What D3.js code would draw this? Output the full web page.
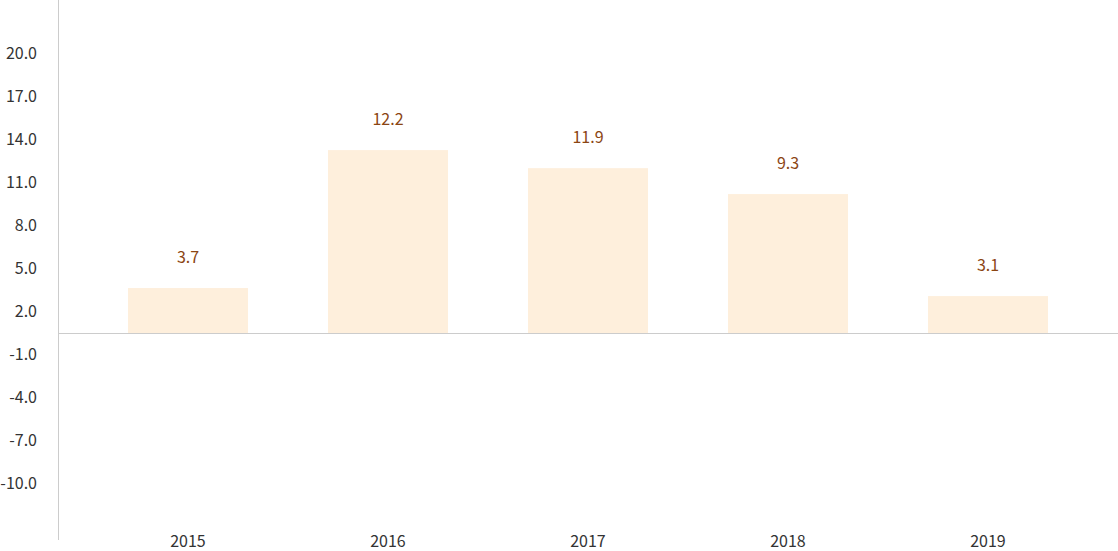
<!DOCTYPE html>
<html>
<head>
<meta charset="utf-8">
<script src="https://cdn.jsdelivr.net/npm/d3@7"></script>
<style>
  html, body { margin: 0; padding: 0; background: #fff; }
  svg { display: block; font-family: "Noto Sans CJK SC", "Noto Sans", sans-serif; }
</style>
</head>
<body>
<svg id="chart" width="1118" height="551"></svg>
<script>
const categories = ["2015", "2016", "2017", "2018", "2019"];
const barValues = [3.14, 12.77, 11.51, 9.70, 2.58];
const labelValues = ["3.7", "12.2", "11.9", "9.3", "3.1"];
const yTicks = [20, 17, 14, 11, 8, 5, 2, -1, -4, -7, -10];

const svg = d3.select("#chart");

const x = d3.scaleBand().domain(categories).range([88, 1088])
  .paddingInner(0.4).paddingOuter(0.2);
const y = d3.scaleLinear().domain([-14.45, 23.25]).range([540, 0]);

const fmt = v => d3.format(".1f")(v).replace("\u2212", "-");

// y axis line
svg.append("line")
  .attr("x1", 58.5).attr("x2", 58.5)
  .attr("y1", 0).attr("y2", 540)
  .attr("stroke", "#ccc").attr("stroke-width", 1);

// bars
svg.selectAll("rect.bar").data(categories).enter().append("rect")
  .attr("class", "bar")
  .attr("x", d => x(d))
  .attr("width", x.bandwidth())
  .attr("y", (d, i) => y(Math.max(0, barValues[i])))
  .attr("height", (d, i) => Math.abs(y(barValues[i]) - y(0)))
  .attr("fill", "#feefdc");

// zero line
svg.append("line")
  .attr("x1", 58.5).attr("x2", 1118)
  .attr("y1", Math.round(y(0)) + 0.5).attr("y2", Math.round(y(0)) + 0.5)
  .attr("stroke", "#ccc").attr("stroke-width", 1);

// y tick labels (top aligned to tick)
svg.selectAll("text.ytick").data(yTicks).enter().append("text")
  .attr("class", "ytick")
  .attr("x", 37)
  .attr("y", d => y(d) + 7.2)
  .attr("dy", "0.35em")
  .attr("text-anchor", "end")
  .attr("font-size", 16)
  .attr("fill", "#333")
  .text(d => fmt(d));

// x labels
svg.selectAll("text.xlab").data(categories).enter().append("text")
  .attr("class", "xlab")
  .attr("x", d => x(d) + x.bandwidth() / 2)
  .attr("y", 541)
  .attr("dy", "0.35em")
  .attr("text-anchor", "middle")
  .attr("font-size", 16)
  .attr("fill", "#333")
  .text(d => d);

// data labels
svg.selectAll("text.vlab").data(categories).enter().append("text")
  .attr("class", "vlab")
  .attr("x", d => x(d) + x.bandwidth() / 2)
  .attr("y", (d, i) => y(barValues[i]) - 30.5)
  .attr("dy", "0.35em")
  .attr("text-anchor", "middle")
  .attr("font-size", 16)
  .attr("fill", "#8b4513")
  .text((d, i) => labelValues[i]);
</script>
</body>
</html>
